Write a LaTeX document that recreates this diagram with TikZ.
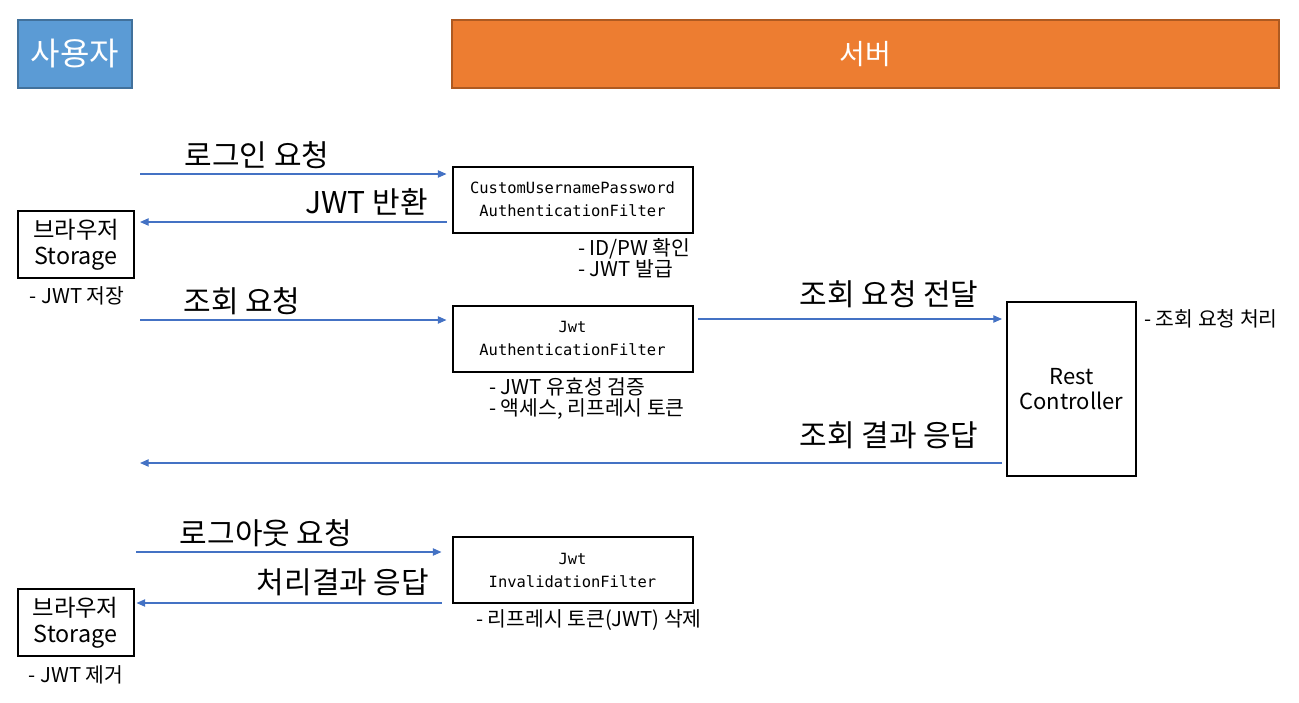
\documentclass[tikz,border=0pt]{standalone}
\usepackage{fontspec}
\setmainfont{Noto Sans CJK KR}
\setmonofont{DejaVu Sans Mono}
\usetikzlibrary{arrows.meta}
\definecolor{userfill}{HTML}{5B9BD5}
\definecolor{userline}{HTML}{41719C}
\definecolor{srvfill}{HTML}{ED7D31}
\definecolor{srvline}{HTML}{AE5A21}
\definecolor{arrblue}{HTML}{4472C4}
\begin{document}
\begin{tikzpicture}[x=0.75pt,y=-0.75pt,
  sz/.style 2 args={minimum width=#1*0.75pt, minimum height=#2*0.75pt},
  hdr/.style={line width=1.5pt, inner sep=0pt, outer sep=0pt, text=white},
  box/.style={draw=black, line width=1.5pt, inner sep=0pt, outer sep=0pt, align=center},
  monotext/.style={font=\ttfamily\fontsize{11.6}{17.25}\selectfont},
  sanstext/.style={font=\fontsize{17.5}{19.5}\selectfont},
  lbl/.style={font=\fontsize{22.5}{26}\selectfont, inner sep=0pt},
  note/.style={font=\fontsize{15.3}{16}\selectfont, inner sep=0pt, align=left},
  arr/.style={draw=arrblue, line width=0.9pt, -{Triangle[length=6.5pt,width=5.5pt]}}
]
\useasboundingbox (0,0) rectangle (1299,703);

% headers
\node[hdr, draw=userline, fill=userfill, sz={114}{68}, font=\fontsize{24}{28}\selectfont] (user) at (75,54) {사용자};
\node[hdr, draw=srvline, fill=srvfill, sz={827}{68}, font=\fontsize{21}{25}\selectfont] (srv) at (865.5,54) {서버};

% boxes
\node[box, sz={240}{66}, monotext] (cup) at (572.5,199.5) {CustomUsernamePassword\\AuthenticationFilter};
\node[box, sz={240}{66}, monotext] (jaf) at (572.5,338.5) {Jwt\\AuthenticationFilter};
\node[box, sz={240}{66}, monotext] (jif) at (572.5,570) {Jwt\\InvalidationFilter};
\node[box, sz={129}{174}, font=\fontsize{16.5}{19}\selectfont] (rest) at (1071.5,389) {Rest\\Controller};
\node[box, sz={116}{67}, sanstext] (st1) at (76,244.5) {브라우저\\Storage};
\node[box, sz={116}{67}, sanstext] (st2) at (75.5,622.5) {브라우저\\Storage};

% notes
\node[note] (n1) at (77,296) {- JWT 저장};
\node[note, anchor=west] (n2) at (578,258.5) {- ID/PW 확인\\- JWT 발급};
\node[note, anchor=west] (n3) at (489,398.5) {- JWT 유효성 검증\\- 액세스, 리프레시 토큰};
\node[note, anchor=west] (n4) at (1144,319) {- 조회 요청 처리};
\node[note, anchor=west] (n5) at (476,620) {- 리프레시 토큰(JWT) 삭제};
\node[note] (n6) at (76,675) {- JWT 제거};

% arrow labels
\node[lbl] (l1) at (257,155) {로그인 요청};
\node[lbl, anchor=east] (l2) at (428,202) {JWT 반환};
\node[lbl] (l3) at (242,301) {조회 요청};
\node[lbl] (l4) at (889,294) {조회 요청 전달};
\node[lbl] (l5) at (889,435) {조회 결과 응답};
\node[lbl] (l6) at (266,533) {로그아웃 요청};
\node[lbl] (l7) at (343,582) {처리결과 응답};

% connector helpers
\coordinate (a1) at (140,174);
\coordinate (y2) at (0,222);
\coordinate (a3) at (140,320);
\coordinate (y4) at (0,319);
\coordinate (a5) at (140,463);
\coordinate (a6) at (136,552);
\coordinate (y7) at (0,603);

% connectors
\draw[arr, shorten >=4.5pt] (a1) -- (a1 -| cup.west);
\draw[arr, shorten <=4.5pt, shorten >=4.5pt] (y2 -| cup.west) -- (y2 -| st1.east);
\draw[arr, shorten >=4.5pt] (a3) -- (a3 -| jaf.west);
\draw[arr, shorten <=3.75pt, shorten >=3.75pt] (y4 -| jaf.east) -- (y4 -| rest.west);
\draw[arr, shorten <=3.75pt] (a5 -| rest.west) -- (a5);
\draw[arr, shorten >=8.25pt] (a6) -- (a6 -| jif.west);
\draw[arr, shorten <=8.25pt, shorten >=2.25pt] (y7 -| jif.west) -- (y7 -| st2.east);
\end{tikzpicture}
\end{document}
